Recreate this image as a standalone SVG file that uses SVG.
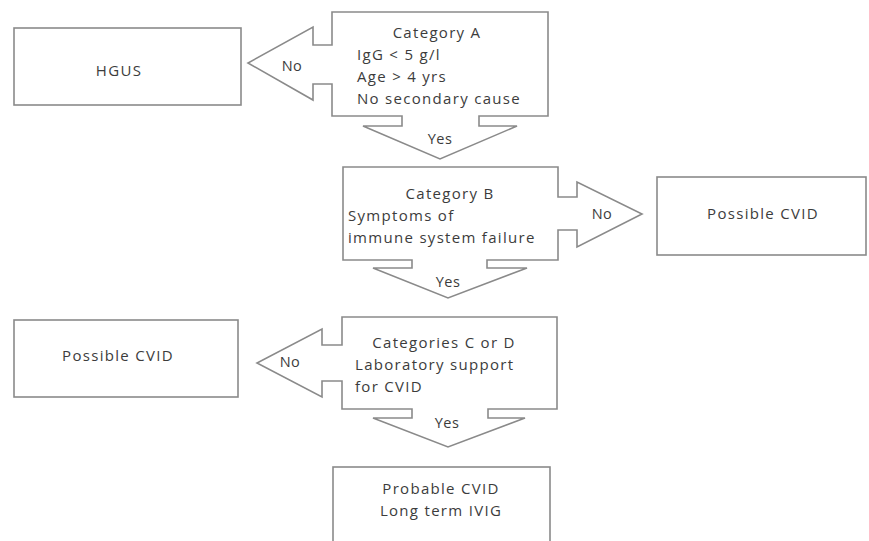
<svg xmlns="http://www.w3.org/2000/svg" width="869" height="541" viewBox="0 0 869 541">
<style>
.s{fill:#fff;stroke:#8a8a8a;stroke-width:1.6;stroke-linejoin:miter}
.t{font-family:"Open Sans","Liberation Sans",Arial,sans-serif;font-size:15px;letter-spacing:1.3px;fill:#3c3c3c}
.m{text-anchor:middle}
.l{font-family:"Open Sans","Liberation Sans",Arial,sans-serif;font-size:14.5px;letter-spacing:0.5px;fill:#3c3c3c;text-anchor:middle}
</style>
<rect width="869" height="541" fill="#fff"/>
<g id="hgus">
<rect class="s" x="14" y="28" width="227" height="77"/>
<text class="t m" x="119" y="76" font-size="14">HGUS</text>
</g>
<g id="catA">
<path class="s" d="M332,12 H548 V116 H479 V126 H517 L440,159 L363,126 H402 V116 H332 V84 H313 V100 L248,63 L313,27 V45 H332 Z"/>
<text class="t m" x="437" y="38">Category A</text>
<text class="t" x="357" y="60">IgG &lt; 5 g/l</text>
<text class="t" x="357" y="82">Age &gt; 4 yrs</text>
<text class="t" x="357" y="104">No secondary cause</text>
</g>
<g id="catB">
<path class="s" d="M343,167 H558 V197 H577 V182 L642,214 L577,247 V230 H558 V260 H487 V268 H527 L448,298 L373,268 H412 V260 H343 Z"/>
<text class="t m" x="450" y="199">Category  B</text>
<text class="t" x="348" y="221">Symptoms of</text>
<text class="t" x="348" y="243">immune system failure</text>
</g>
<g id="cvidRight">
<rect class="s" x="657" y="177" width="209" height="78"/>
<text class="t m" x="763" y="219">Possible CVID</text>
</g>
<g id="cvidLeft">
<rect class="s" x="14" y="320" width="224" height="77"/>
<text class="t m" x="118" y="361">Possible CVID</text>
</g>
<g id="catCD">
<path class="s" d="M342,317 H557 V409 H488 V418 H525 L448,447 L373,418 H412 V409 H342 V381 H322 V397 L257,363 L322,329 V345 H342 Z"/>
<text class="t m" x="444" y="348">Categories C or D</text>
<text class="t" x="355" y="370">Laboratory support</text>
<text class="t" x="355" y="392">for CVID</text>
</g>
<g id="probable">
<rect class="s" x="333" y="467" width="217" height="90"/>
<text class="t m" x="441" y="494">Probable CVID</text>
<text class="t m" x="441" y="516">Long term IVIG</text>
</g>
<g id="connectors">
<text class="l" x="292" y="71">No</text>
<text class="l" x="440" y="144">Yes</text>
<text class="l" x="602" y="219">No</text>
<text class="l" x="448" y="287">Yes</text>
<text class="l" x="290" y="367">No</text>
<text class="l" x="447" y="428">Yes</text>
</g>
</svg>
